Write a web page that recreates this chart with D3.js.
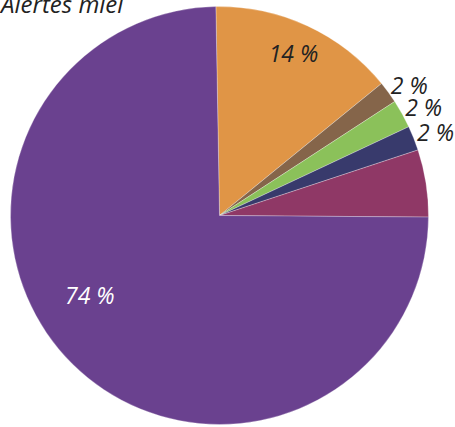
<!DOCTYPE html>
<html>
<head>
<meta charset="utf-8">
<script src="https://cdn.jsdelivr.net/npm/d3@7"></script>
<style>
  body { margin: 0; background: #fff; }
  text { font-family: "Open Sans", sans-serif; font-style: italic; }
</style>
</head>
<body>
<div id="container"></div>
<script>
var width = 455,
    height = 427,
    cx = 219.5,
    cy = 215.5,
    radius = 209;

// data, clockwise from 12 o'clock
var categories = ["A", "B", "C", "D", "E", "F"];
var values = [14.4, 1.7, 2.2, 1.9, 5.2, 74.6];
var labels = ["14 %", "2 %", "2 %", "2 %", "", "74 %"];
var colors = ["#e09546", "#85654a", "#8bc15a", "#383a6c", "#8f3866", "#6a418f"];

var svg = d3.select("#container")
    .append("svg")
    .attr("width", width)
    .attr("height", height);

var g = svg.append("g")
    .attr("transform", "translate(" + cx + "," + cy + ")");

var pie = d3.pie()
    .sort(null)
    .value(function(d) { return d; })
    .startAngle(-Math.PI / 180)
    .endAngle(2 * Math.PI - Math.PI / 180);

var arcs = pie(values);

var arc = d3.arc().innerRadius(0).outerRadius(radius);

g.selectAll("path.slice")
    .data(arcs)
    .enter()
    .append("path")
    .attr("class", "slice")
    .attr("d", arc)
    .attr("fill", function(d, i) { return colors[i]; })
    .attr("stroke", "rgba(255,255,255,0.35)")
    .attr("stroke-width", 0.8);

var inner = d3.arc().innerRadius(radius * 0.84).outerRadius(radius * 0.84);
var outer = d3.arc().innerRadius(radius + 8).outerRadius(radius + 8);

g.selectAll("text.lbl")
    .data(arcs)
    .enter()
    .append("text")
    .attr("class", "lbl")
    .text(function(d, i) { return labels[i]; })
    .attr("font-size", 23)
    .attr("dominant-baseline", "middle")
    .each(function(d, i) {
        var t = d3.select(this);
        var share = (d.endAngle - d.startAngle) / (2 * Math.PI);
        if (share < 0.03) {
            var c = outer.centroid(d);
            t.attr("x", c[0] - 4).attr("y", c[1]).attr("text-anchor", "start").attr("fill", "#222");
        } else if (share > 0.5) {
            // big slice label sits nearer the left side
            var a = d.startAngle + (d.endAngle - d.startAngle) * 0.548;
            var r = radius * 0.735;
            t.attr("x", r * Math.sin(a)).attr("y", -r * Math.cos(a))
             .attr("text-anchor", "middle").attr("fill", "#fff");
        } else {
            var c2 = inner.centroid(d);
            t.attr("x", c2[0]).attr("y", c2[1]).attr("text-anchor", "middle").attr("fill", "#222");
        }
    });

svg.append("text")
    .attr("x", 1)
    .attr("y", 13)
    .attr("font-size", 24)
    .attr("fill", "#222")
    .text("Alertes miel");
</script>
</body>
</html>
